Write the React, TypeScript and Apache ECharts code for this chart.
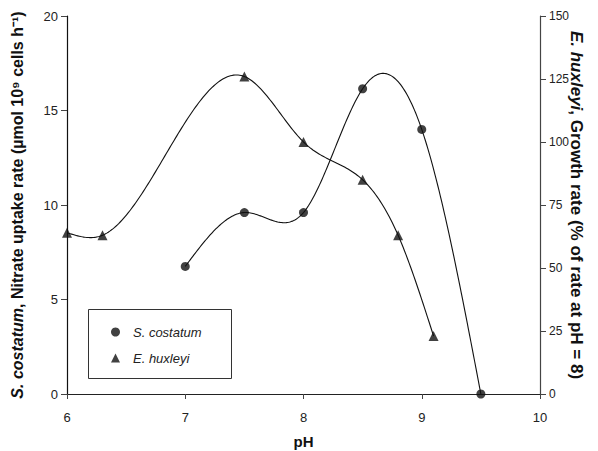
import React, { useEffect, useRef } from "react";
import * as echarts from "echarts";

const xTicks = [6, 7, 8, 9, 10];
const leftTicks = [0, 5, 10, 15, 20];
const rightTicks = [0, 25, 50, 75, 100, 125, 150];

const scPH = [7, 7.5, 8, 8.5, 9, 9.5];
const scRate = [6.75, 9.6, 9.6, 16.15, 14.0, 0];

const ehPH = [6, 6.3, 7.5, 8, 8.5, 8.8, 9.1];
const ehGrowth = [64, 63, 126, 100, 85, 63, 23];

function naturalSpline(xs: number[], ys: number[]) {
  const n = xs.length;
  const h: number[] = [];
  for (let i = 0; i < n - 1; i++) h.push(xs[i + 1] - xs[i]);
  const a: number[] = new Array(n).fill(0);
  const b: number[] = new Array(n).fill(1);
  const c: number[] = new Array(n).fill(0);
  const d: number[] = new Array(n).fill(0);
  for (let i = 1; i < n - 1; i++) {
    a[i] = h[i - 1];
    b[i] = 2 * (h[i - 1] + h[i]);
    c[i] = h[i];
    d[i] = 6 * ((ys[i + 1] - ys[i]) / h[i] - (ys[i] - ys[i - 1]) / h[i - 1]);
  }
  const cp = new Array(n).fill(0);
  const dp = new Array(n).fill(0);
  cp[0] = c[0] / b[0];
  dp[0] = d[0] / b[0];
  for (let i = 1; i < n; i++) {
    const m = b[i] - a[i] * cp[i - 1];
    cp[i] = c[i] / m;
    dp[i] = (d[i] - a[i] * dp[i - 1]) / m;
  }
  const M = new Array(n).fill(0);
  M[n - 1] = dp[n - 1];
  for (let i = n - 2; i >= 0; i--) M[i] = dp[i] - cp[i] * M[i + 1];
  return (x: number) => {
    let i = 0;
    while (i < n - 2 && x > xs[i + 1]) i++;
    const hi = h[i];
    const t1 = xs[i + 1] - x;
    const t0 = x - xs[i];
    return (
      (M[i] * t1 * t1 * t1) / (6 * hi) +
      (M[i + 1] * t0 * t0 * t0) / (6 * hi) +
      (ys[i] / hi - (M[i] * hi) / 6) * t1 +
      (ys[i + 1] / hi - (M[i + 1] * hi) / 6) * t0
    );
  };
}

function curveRenderer(xs: number[], ys: number[]) {
  const f = naturalSpline(xs, ys);
  return (params: any, api: any) => {
    if (params.dataIndex !== 0) return null;
    const pts: number[][] = [];
    const steps = 240;
    const x0 = xs[0];
    const x1 = xs[xs.length - 1];
    for (let k = 0; k <= steps; k++) {
      const x = x0 + ((x1 - x0) * k) / steps;
      pts.push(api.coord([x, f(x)]));
    }
    return {
      type: "polyline",
      shape: { points: pts },
      style: { stroke: "#111", lineWidth: 1.1, fill: null },
      silent: true,
    };
  };
}

const FONT = "'Liberation Sans', Arial, sans-serif";

export default function App() {
  const ref = useRef<HTMLDivElement>(null);
  useEffect(() => {
    if (!ref.current) return;
    const chart = echarts.init(ref.current, null, { renderer: "svg" });
    const axisLabel = { color: "#222", fontSize: 13, fontFamily: FONT };
    const option: any = {
      animation: false,
      backgroundColor: "#fff",
      textStyle: { fontFamily: FONT },
      grid: { left: 67, right: 58, top: 16, bottom: 57, containLabel: false, outerBoundsMode: "none" },
      legend: {
        orient: "vertical",
        left: 106,
        top: 320,
        itemWidth: 9,
        itemHeight: 9,
        itemGap: 12,
        selectedMode: false,
        data: ["S. costatum", "E. huxleyi"],
        textStyle: {
          fontFamily: FONT,
          fontSize: 13,
          fontStyle: "italic",
          color: "#222",
          lineHeight: 14,
          padding: [0, 0, 0, 8],
        },
      },
      graphic: [
        {
          type: "rect",
          shape: { x: 88.5, y: 309.5, width: 143, height: 69 },
          style: { fill: "none", stroke: "#333", lineWidth: 1 },
          z: 1,
        },
        {
          type: "text",
          x: 576,
          y: 205,
          rotation: -Math.PI / 2,
          style: {
            text: "{i|E. huxleyi}{b|, Growth rate (% of rate at pH = 8)}",
            align: "center",
            verticalAlign: "middle",
            rich: {
              i: { fontFamily: FONT, fontSize: 17, fontWeight: "bold", fontStyle: "italic", fill: "#111" },
              b: { fontFamily: FONT, fontSize: 17, fontWeight: "bold", fill: "#111" },
            },
          },
          z: 5,
        },
      ],
      xAxis: [
        {
          type: "value",
          min: 6,
          max: 10,
          interval: 1,
          position: "bottom",
          name: "pH",
          nameLocation: "middle",
          nameGap: 40,
          nameMoveOverlap: false,
          nameTextStyle: { fontFamily: FONT, fontSize: 15, fontWeight: "bold", color: "#111" },
          axisLine: { lineStyle: { color: "#444", width: 1.2 } },
          axisTick: { show: true, inside: false, length: 5, lineStyle: { color: "#444" } },
          axisLabel: { ...axisLabel, margin: 17, formatter: (v: number) => (xTicks.includes(v) ? String(v) : "") },
          splitLine: { show: false },
        },
        {
          type: "value",
          min: 6,
          max: 10,
          position: "top",
          axisLine: { lineStyle: { color: "#222", width: 1.2 } },
          axisTick: { show: false },
          axisLabel: { show: false },
          splitLine: { show: false },
        },
      ],
      yAxis: [
        {
          type: "value",
          min: 0,
          max: 20,
          interval: 5,
          position: "left",
          name: "{i|S. costatum}{b|, Nitrate uptake rate (µmol 10⁹ cells h⁻¹)}",
          nameLocation: "middle",
          nameRotate: 90,
          nameGap: 42,
          nameMoveOverlap: false,
          nameTextStyle: {
            rich: {
              i: { fontFamily: FONT, fontSize: 16, fontWeight: "bold", fontStyle: "italic", color: "#111" },
              b: { fontFamily: FONT, fontSize: 16, fontWeight: "bold", color: "#111" },
            },
          },
          axisLine: { show: true, lineStyle: { color: "#111", width: 1.2 } },
          axisTick: { show: true, inside: false, length: 6, lineStyle: { color: "#444" } },
          axisLabel: { ...axisLabel, margin: 9, formatter: (v: number) => (leftTicks.includes(v) ? String(v) : "") },
          splitLine: { show: false },
        },
        {
          type: "value",
          min: 0,
          max: 150,
          interval: 25,
          position: "right",
          axisLine: { show: true, lineStyle: { color: "#444", width: 1.2 } },
          axisTick: { show: true, inside: false, length: 6, lineStyle: { color: "#444" } },
          axisLabel: { ...axisLabel, fontSize: 12, margin: 9, formatter: (v: number) => (rightTicks.includes(v) ? String(v) : "") },
          splitLine: { show: false },
        },
      ],
      series: [
        {
          name: "sc-curve",
          type: "custom",
          xAxisIndex: 0,
          yAxisIndex: 0,
          data: [[scPH[0], scRate[0]]],
          renderItem: curveRenderer(scPH, scRate),
          z: 2,
        },
        {
          name: "eh-curve",
          type: "custom",
          xAxisIndex: 0,
          yAxisIndex: 1,
          data: [[ehPH[0], ehGrowth[0]]],
          renderItem: curveRenderer(ehPH, ehGrowth),
          z: 2,
        },
        {
          name: "S. costatum",
          type: "scatter",
          xAxisIndex: 0,
          yAxisIndex: 0,
          symbol: "circle",
          symbolSize: 9,
          itemStyle: { color: "#111" },
          data: scPH.map((x, i) => [x, scRate[i]]),
          z: 3,
          clip: false,
        },
        {
          name: "E. huxleyi",
          type: "scatter",
          xAxisIndex: 0,
          yAxisIndex: 1,
          symbol: "triangle",
          symbolSize: 10,
          itemStyle: { color: "#111" },
          data: ehPH.map((x, i) => [x, ehGrowth[i]]),
          z: 3,
          clip: false,
        },
      ],
    };
    chart.setOption(option);
    return () => chart.dispose();
  }, []);
  return (
    <div
      ref={ref}
      style={{ position: "fixed", left: 0, top: 0, width: 598, height: 451 }}
    />
  );
}
